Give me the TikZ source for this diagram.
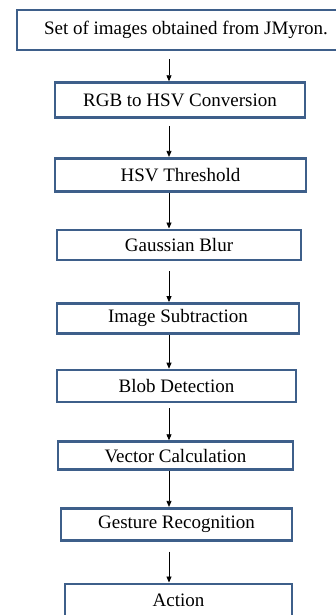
\documentclass[tikz,border=0pt]{standalone}
\usepackage{fontspec}
\setmainfont{Liberation Serif}
\usepackage{xcolor}
\usepackage{tikz}
\usetikzlibrary{positioning,arrows.meta}
\definecolor{boxblue}{RGB}{62,95,138}
\tikzstyle{stage} = [draw=boxblue,line width=2.6pt,fill=white,inner sep=2pt,font=\fontsize{19}{22}\selectfont]
\tikzstyle{flow} = [draw,line width=0.8pt,-{Triangle[length=6pt,width=5pt]}]

\begin{document}
\begin{tikzpicture}[x=1pt,y=1pt,node distance=36pt]
\useasboundingbox (0,0) rectangle (336,-615);
\coordinate (axis) at (169,0);
% the stages, top to bottom
\node[stage,minimum width=338pt,minimum height=40pt] (images) at (186,-30) {Set of images obtained from JMyron.};
\node[stage,minimum width=250pt,minimum height=35pt] (rgbhsv) [below=30pt of images,xshift=-6pt] {RGB to HSV Conversion};
\node[stage,minimum width=251pt,minimum height=33pt] (thresh) [below=38pt of rgbhsv,xshift=0.5pt] {HSV Threshold};
\node[stage,minimum width=244pt,minimum height=30pt] (blur) [below=36pt of thresh,xshift=-1.5pt] {Gaussian Blur};
\node[stage,minimum width=242pt,minimum height=30pt] (subtr) [below=41pt of blur,xshift=-1pt] {Image Subtraction};
\node[stage,minimum width=239pt,minimum height=32pt] (blob) [below=34pt of subtr,xshift=-1.5pt] {Blob Detection};
\node[stage,minimum width=235pt,minimum height=28pt] (vector) [below=37pt of blob,xshift=-1pt] {Vector Calculation};
\node[stage,minimum width=231pt,minimum height=32pt] (gesture) [below=36pt of vector,xshift=1pt] {Gesture Recognition};
\node[stage,minimum width=227pt,minimum height=33pt] (action) [below=41pt of gesture,xshift=2pt] {Action};
% arrows
\draw[flow,shorten <=8pt] (images.south -| axis) -- (rgbhsv.north -| axis);
\draw[flow,shorten <=7pt] (rgbhsv.south -| axis) -- (thresh.north -| axis);
\draw[flow] (thresh.south -| axis) -- (blur.north -| axis);
\draw[flow,shorten <=10pt] (blur.south -| axis) -- (subtr.north -| axis);
\draw[flow] (subtr.south -| axis) -- (blob.north -| axis);
\draw[flow,shorten <=5pt] (blob.south -| axis) -- (vector.north -| axis);
\draw[flow] (vector.south -| axis) -- (gesture.north -| axis);
\draw[flow,shorten <=10pt] (gesture.south -| axis) -- (action.north -| axis);
\end{tikzpicture}
\end{document}
